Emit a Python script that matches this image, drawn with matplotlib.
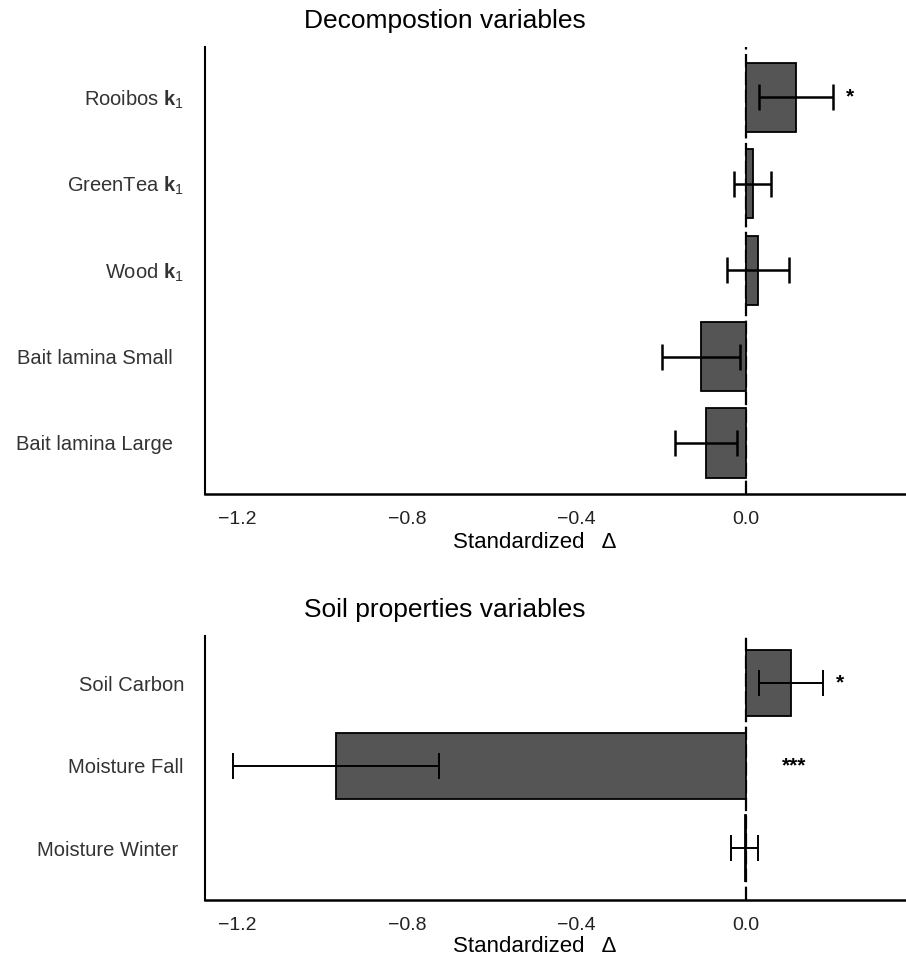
import matplotlib.pyplot as plt

plt.rcParams['font.family'] = ['Liberation Sans', 'DejaVu Sans']
plt.rcParams['mathtext.fontset'] = 'custom'
plt.rcParams['mathtext.rm'] = 'Liberation Sans'
plt.rcParams['mathtext.bf'] = 'Liberation Sans:bold'

# decomposition variables
decomp_names = [r'Rooibos $\mathbf{k}_1$', r'GreenTea $\mathbf{k}_1$', r'Wood $\mathbf{k}_1$',
                'Bait lamina Small  ', 'Bait lamina Large  ']
decomp_vals = [0.118, 0.016, 0.028, -0.106, -0.095]
decomp_err = [0.087, 0.044, 0.073, 0.092, 0.073]
decomp_sig = ['*', '', '', '', '']

# soil properties variables
soil_names = ['Soil Carbon', 'Moisture Fall', 'Moisture Winter ']
soil_vals = [0.106, -0.967, -0.003]
soil_err = [0.076, 0.243, 0.031]
soil_sig = ['*', '***', '']

fig = plt.figure(figsize=(9.06, 9.61), dpi=100)
ax1 = fig.add_axes([0.226, 0.486, 0.774, 0.465])
ax2 = fig.add_axes([0.226, 0.0635, 0.774, 0.2745])


def draw(ax, names, vals, err, sig, title, lw, ylim):
    y = list(range(len(names)))
    ax.axvline(0, color='black', ls='--', lw=1.6, dashes=(6, 2), zorder=1)
    ax.barh(y, vals, height=0.8, color='#555555', edgecolor='black', linewidth=1.3, zorder=2)
    ax.errorbar(vals, y, xerr=err, fmt='none', ecolor='black', elinewidth=lw,
                capsize=9.5, capthick=lw, zorder=3)
    for yi, v, e, s in zip(y, vals, err, sig):
        if s:
            xpos = max(v + e, 0) + 0.03 if len(s) == 1 else 0.113
            ax.text(xpos, yi, s, ha='center' if len(s) > 1 else 'left', va='center',
                    fontsize=15, fontweight='bold')
    ax.set_yticks(y)
    ax.set_yticklabels(names, fontsize=14.5, color='#333333')
    ax.tick_params(axis='y', length=0, pad=15)
    ax.set_xticks([-1.2, -0.8, -0.4, 0.0])
    ax.set_xticklabels(['\u22121.2', '\u22120.8', '\u22120.4', '0.0'])
    ax.tick_params(axis='x', length=0, pad=12, labelsize=14, labelcolor='#222222')
    ax.set_xlim(-1.277, 0.378)
    ax.set_ylim(*ylim)
    for side in ['top', 'right']:
        ax.spines[side].set_visible(False)
    ax.spines['left'].set_linewidth(1.5)
    ax.spines['bottom'].set_linewidth(1.8)
    ax.set_xlabel('Standardized   \u0394', fontsize=16, labelpad=4)
    ax.xaxis.set_label_coords(0.47, -0.085 if len(names) > 3 else -0.135)
    ax.set_title(title, fontsize=19, pad=14, x=0.342)


draw(ax1, decomp_names, decomp_vals, decomp_err, decomp_sig,
     'Decompostion variables', 1.8, (4.59, -0.58))
draw(ax2, soil_names, soil_vals, soil_err, soil_sig,
     'Soil properties variables', 1.4, (2.63, -0.57))

fig.savefig('out.png', dpi=100)
